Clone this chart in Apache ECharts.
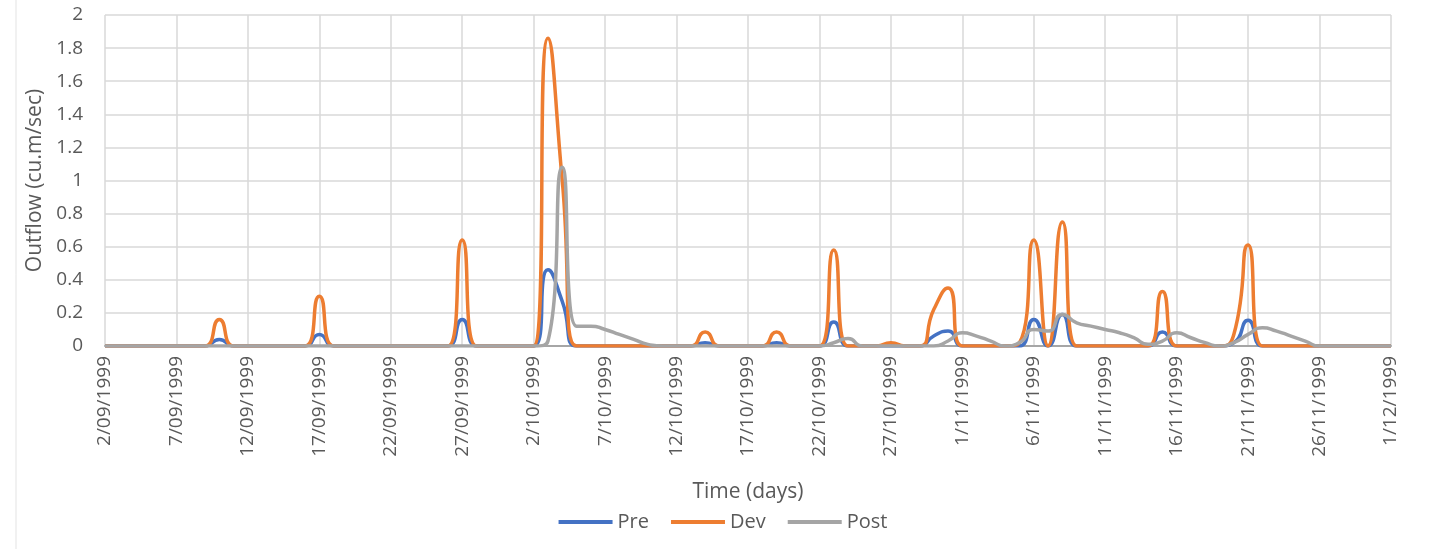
<!DOCTYPE html>
<html>
<head>
<meta charset="utf-8">
<script src="https://cdn.jsdelivr.net/npm/echarts@6/dist/echarts.min.js"></script>
<style>
  html, body { margin: 0; padding: 0; background: #fff; }
  #chart { width: 1446px; height: 549px; }
</style>
</head>
<body>
<div id="chart"></div>
<script>
// dates 2/09/1999 .. 1/12/1999, one per day
var startDate = new Date(1999, 8, 2)
var dayCount = 91
var dates = []
for (var d = 0; d < dayCount; d++) {
  var dt = new Date(startDate.getTime() + d * 86400000)
  dates.push(dt.getDate() + '/' + String(dt.getMonth() + 1).padStart(2, '0') + '/' + dt.getFullYear())
}

var yTicks = [0, 0.2, 0.4, 0.6, 0.8, 1, 1.2, 1.4, 1.6, 1.8, 2]

// outflow (cu.m/sec)
var pre = [
  0, 0, 0, 0, 0, 0, 0, 0, 0.04, 0,
  0, 0, 0, 0, 0, 0.07, 0, 0, 0, 0,
  0, 0, 0, 0, 0, 0.16, 0, 0, 0, 0,
  0, 0.46, 0.27, 0, 0, 0, 0, 0, 0, 0,
  0, 0, 0.02, 0, 0, 0, 0, 0.02, 0, 0,
  0, 0.145, 0, 0, 0, 0, 0, 0, 0.06, 0.09,
  0, 0, 0, 0, 0, 0.16, 0, 0.19, 0, 0,
  0, 0, 0, 0, 0.085, 0, 0, 0, 0, 0.02,
  0.155, 0, 0, 0, 0, 0, 0, 0, 0, 0,
  0
]
var dev = [
  0, 0, 0, 0, 0, 0, 0, 0, 0.16, 0,
  0, 0, 0, 0, 0, 0.30, 0, 0, 0, 0,
  0, 0, 0, 0, 0, 0.64, 0, 0, 0, 0,
  0, 1.86, 1.0, 0, 0, 0, 0, 0, 0, 0,
  0, 0, 0.085, 0, 0, 0, 0, 0.085, 0, 0,
  0, 0.58, 0, 0, 0, 0.02, 0, 0, 0.22, 0.35,
  0, 0, 0, 0, 0.02, 0.64, 0, 0.75, 0, 0,
  0, 0, 0, 0, 0.33, 0, 0, 0, 0, 0.07,
  0.61, 0, 0, 0, 0, 0, 0, 0, 0, 0,
  0
]
var post = [
  0, 0, 0, 0, 0, 0, 0, 0, 0, 0,
  0, 0, 0, 0, 0, 0, 0, 0, 0, 0,
  0, 0, 0, 0, 0, 0, 0, 0, 0, 0,
  0, 0.03, 1.08, 0.12, 0.12, 0.10, 0.07, 0.04, 0.01, 0,
  0, 0, 0, 0, 0, 0, 0, 0, 0, 0,
  0, 0.02, 0.045, 0, 0, 0, 0, 0, 0, 0.03,
  0.08, 0.06, 0.03, 0, 0.02, 0.10, 0.09, 0.19, 0.14, 0.12,
  0.10, 0.08, 0.05, 0.01, 0.03, 0.08, 0.05, 0.02, 0, 0.02,
  0.07, 0.11, 0.09, 0.06, 0.03, 0, 0, 0, 0, 0,
  0
]

var font = '"Open Sans", Lato, sans-serif'
var textColor = '#595959'

var chart = echarts.init(document.getElementById('chart'))
chart.setOption({
  animation: false,
  color: ['#4472C4', '#ED7D31', '#A5A5A5'],
  textStyle: { fontFamily: font },
  grid: { left: 105, right: 55, top: 15, bottom: 203 },
  graphic: [{
    type: 'line',
    shape: { x1: 16, y1: 0, x2: 16, y2: 549 },
    style: { stroke: '#e3e3e3', lineWidth: 1 }
  }],
  legend: {
    bottom: 12,
    left: 'center',
    itemWidth: 54,
    itemHeight: 4,
    itemGap: 22,
    icon: 'rect',
    textStyle: { color: textColor, fontSize: 20, fontFamily: font },
    data: ['Pre', 'Dev', 'Post']
  },
  xAxis: {
    type: 'category',
    data: dates,
    boundaryGap: false,
    name: 'Time (days)',
    nameLocation: 'middle',
    nameGap: 136,
    nameTextStyle: { color: textColor, fontSize: 21, fontFamily: font },
    axisLine: { lineStyle: { color: '#a6a6a6', width: 2 } },
    axisTick: { show: false },
    axisLabel: {
      interval: 4,
      rotate: 90,
      margin: 10,
      color: textColor,
      fontSize: 19,
      fontFamily: font
    },
    splitLine: { show: true, interval: 4, lineStyle: { color: '#d9d9d9', width: 1.5 } }
  },
  yAxis: {
    type: 'value',
    min: yTicks[0],
    max: yTicks[yTicks.length - 1],
    interval: 0.2,
    name: 'Outflow (cu.m/sec)',
    nameLocation: 'middle',
    nameGap: 57,
    nameTextStyle: { color: textColor, fontSize: 21, fontFamily: font },
    axisLine: { show: false },
    axisTick: { show: false },
    axisLabel: { color: textColor, fontSize: 19, fontFamily: font, margin: 22 },
    splitLine: { lineStyle: { color: '#d9d9d9', width: 1.5 } }
  },
  series: [
    { name: 'Pre', type: 'line', data: pre, smooth: 0.6, showSymbol: false, lineStyle: { width: 3.5 } },
    { name: 'Dev', type: 'line', data: dev, smooth: 0.6, showSymbol: false, lineStyle: { width: 3.5 } },
    { name: 'Post', type: 'line', data: post, smooth: 0.6, showSymbol: false, lineStyle: { width: 3.5 } }
  ]
})
</script>
</body>
</html>
